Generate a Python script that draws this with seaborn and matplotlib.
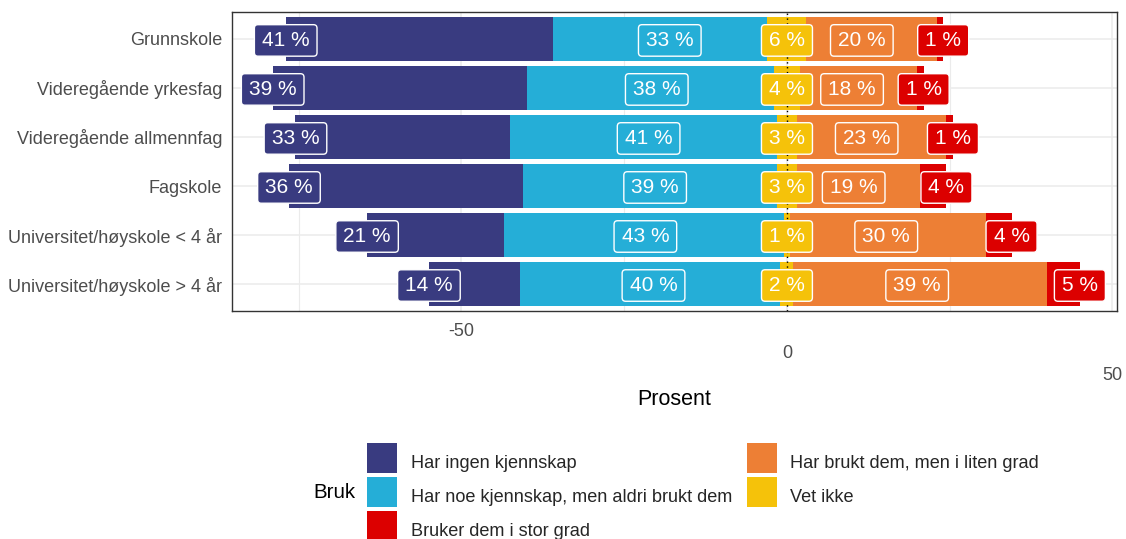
import matplotlib
matplotlib.use("Agg")
import matplotlib.pyplot as plt
from matplotlib.patches import BoxStyle
from matplotlib.lines import Line2D
import seaborn as sns
import pandas as pd
import numpy as np

# ---------------- data ----------------
categories = [
    "Grunnskole",
    "Videregående yrkesfag",
    "Videregående allmennfag",
    "Fagskole",
    "Universitet/høyskole < 4 år",
    "Universitet/høyskole > 4 år",
]
har_ingen = [41, 39, 33, 36, 21, 14]
har_noe = [33, 38, 41, 39, 43, 40]
vet_ikke = [6, 4, 3, 3, 1, 2]
liten_grad = [20, 18, 23, 19, 30, 39]
stor_grad = [1, 1, 1, 4, 4, 5]

series_names = [
    "Har ingen kjennskap",
    "Har noe kjennskap, men aldri brukt dem",
    "Bruker dem i stor grad",
    "Har brukt dem, men i liten grad",
    "Vet ikke",
]
x_ticks = [-50, 0, 50]
x_tick_labels = ["-50", "\n0", "\n\n50"]
x_minor = [-75, -25, 25]

col_ingen = "#393B80"
col_noe = "#25AED7"
col_vet = "#F5C20A"
col_liten = "#ED7F35"
col_stor = "#DC0000"
series_colors = [col_ingen, col_noe, col_stor, col_liten, col_vet]

# ---------------- style ----------------
sns.set_style("white")
plt.rcParams["font.family"] = ["Liberation Sans", "DejaVu Sans"]

half = np.array(vet_ikke) / 2
ingen = np.array(har_ingen)
noe = np.array(har_noe)
liten = np.array(liten_grad)
stor = np.array(stor_grad)

df = pd.DataFrame({
    "kategori": categories,
    "neg_outer": -(half + noe + ingen),
    "neg_mid": -(half + noe),
    "neg_inner": -half,
    "pos_outer": half + liten + stor,
    "pos_mid": half + liten,
    "pos_inner": half,
})

fig = plt.figure(figsize=(11.26, 5.39), dpi=100)
ax = fig.add_axes([232 / 1126, 1 - 311 / 539, (1117 - 232) / 1126, (311 - 12) / 539])

layers = [
    ("neg_outer", col_ingen),
    ("neg_mid", col_noe),
    ("neg_inner", col_vet),
    ("pos_outer", col_stor),
    ("pos_mid", col_liten),
    ("pos_inner", col_vet),
]
for col, c in layers:
    sns.barplot(data=df, x=col, y="kategori", order=categories, orient="h",
                color=c, saturation=1, width=0.9, errorbar=None,
                linewidth=0, ax=ax, zorder=2)

ax.set_xlim(-85.25, 50.7)
ax.set_ylim(len(categories) - 0.45, -0.55)

# grid
ax.set_xticks(x_ticks)
ax.set_xticklabels(x_tick_labels, linespacing=1.38)
ax.set_xticks(x_minor, minor=True)
ax.set_axisbelow(True)
ax.grid(True, which="major", axis="both", color="#EBEBEB", linewidth=1.1, zorder=0)
ax.grid(True, which="minor", axis="x", color="#EBEBEB", linewidth=0.8, zorder=0)
ax.tick_params(axis="x", which="minor", length=0)
ax.tick_params(axis="both", which="major", length=3.6, width=0.9, color="#333333",
               labelsize=13.0, labelcolor="#4D4D4D", pad=3.4)
ax.tick_params(axis="x", which="major", pad=5.2)

for s in ax.spines.values():
    s.set_visible(True)
    s.set_color("#333333")
    s.set_linewidth(1.0)

# dotted zero line
ax.axvline(0, color="black", linestyle=(0, (1, 2.5)), linewidth=1.0, zorder=3)

# labels
def label_box(x0, y0, width, height, mutation_size):
    px = 0.36 * mutation_size
    py = 0.30 * mutation_size
    return BoxStyle.Round(pad=0, rounding_size=0.17 * mutation_size)(
        x0 - px, y0 - py, width + 2 * px, height + 2 * py, 1.0)

label_sets = [
    (df["neg_outer"].to_numpy(), har_ingen, col_ingen),
    (df["neg_mid"].to_numpy() / 2, har_noe, col_noe),
    (np.zeros(len(categories)), vet_ikke, col_vet),
    (df["pos_mid"].to_numpy() / 2, liten_grad, col_liten),
    (df["pos_outer"].to_numpy(), stor_grad, col_stor),
]
for xs, vals, c in label_sets:
    for i, (xv, v) in enumerate(zip(xs, vals)):
        ax.text(xv, i + 0.03, f"{v} %", ha="center", va="center", color="white",
                fontsize=15, zorder=5,
                bbox=dict(boxstyle=label_box, fc=c, ec="white", lw=1.0))

ax.set_ylabel("")
ax.set_xlabel("Prosent", fontsize=15.5, color="black")
ax.xaxis.set_label_coords(0.5, -0.262)

# legend
handles = [Line2D([], [], marker="s", linestyle="none", markersize=22.3,
                  markerfacecolor=c, markeredgewidth=0) for c in series_colors]
leg = fig.legend(handles, series_names, ncol=2, loc="upper left",
                 bbox_to_anchor=(367 / 1126, 1 - 447 / 539), bbox_transform=fig.transFigure,
                 frameon=False, fontsize=13.1, handlelength=1.7, handleheight=2.24,
                 handletextpad=0.7, columnspacing=0.78, labelspacing=0.17,
                 borderpad=0, borderaxespad=0)
fig.text(313 / 1126, 1 - 492 / 539, "Bruk", fontsize=14.8, color="black",
         ha="left", va="center")

fig.savefig("out.png", dpi=100)
